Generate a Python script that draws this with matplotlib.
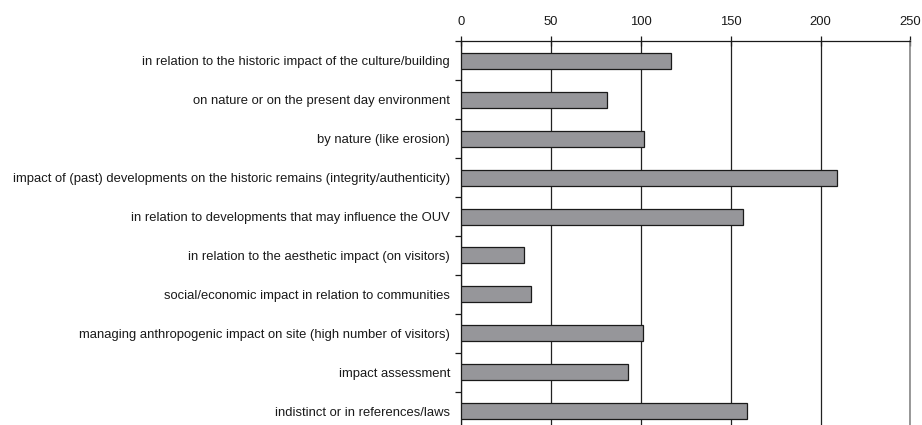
import numpy as np
import matplotlib.pyplot as plt

plt.rcParams['font.family'] = ['Liberation Sans', 'DejaVu Sans']

categories = [
    "in relation to the historic impact of the culture/building",
    "on nature or on the present day environment",
    "by nature (like erosion)",
    "impact of (past) developments on the historic remains (integrity/authenticity)",
    "in relation to developments that may influence the OUV",
    "in relation to the aesthetic impact (on visitors)",
    "social/economic impact in relation to communities",
    "managing anthropogenic impact on site (high number of visitors)",
    "impact assessment",
    "indistinct or in references/laws",
]
counts = [117, 81, 102, 209, 157, 35, 39, 101, 93, 159]
x_ticks = [0, 50, 100, 150, 200, 250]


def main():
    fig = plt.figure(figsize=(9.22, 4.25), dpi=100)
    ax = fig.add_axes([0.5, -0.013, 0.4875, 0.9155])

    y = np.arange(len(categories))
    ax.barh(y, counts, height=0.41, color='#96969a', edgecolor='#1a1a1a', linewidth=0.9, zorder=3)

    ax.set_xlim(0, 250)
    ax.set_ylim(len(categories) - 0.5, -0.5)
    ax.set_xticks(x_ticks)
    ax.xaxis.tick_top()
    ax.tick_params(axis='x', direction='inout', length=7, width=0.9, labelsize=9.4, pad=6, colors='#1a1a1a')
    ax.grid(axis='x', color='#222222', linewidth=0.9, zorder=1)

    ax.set_yticks(y)
    ax.set_yticklabels(categories)
    ax.set_yticks(np.arange(len(categories) + 1) - 0.5, minor=True)
    ax.tick_params(axis='y', which='major', length=0, labelsize=9.4, pad=8, colors='#1a1a1a')
    ax.tick_params(axis='y', which='minor', direction='out', length=4, width=0.9, color='#1a1a1a')

    ax.spines['bottom'].set_visible(False)
    ax.spines['right'].set_color('#888888')
    ax.spines['right'].set_linewidth(1.2)
    for side in ['top', 'left']:
        ax.spines[side].set_linewidth(0.9)
        ax.spines[side].set_color('#1a1a1a')

    fig.savefig('out.png', dpi=100)


if __name__ == "__main__":
    main()
